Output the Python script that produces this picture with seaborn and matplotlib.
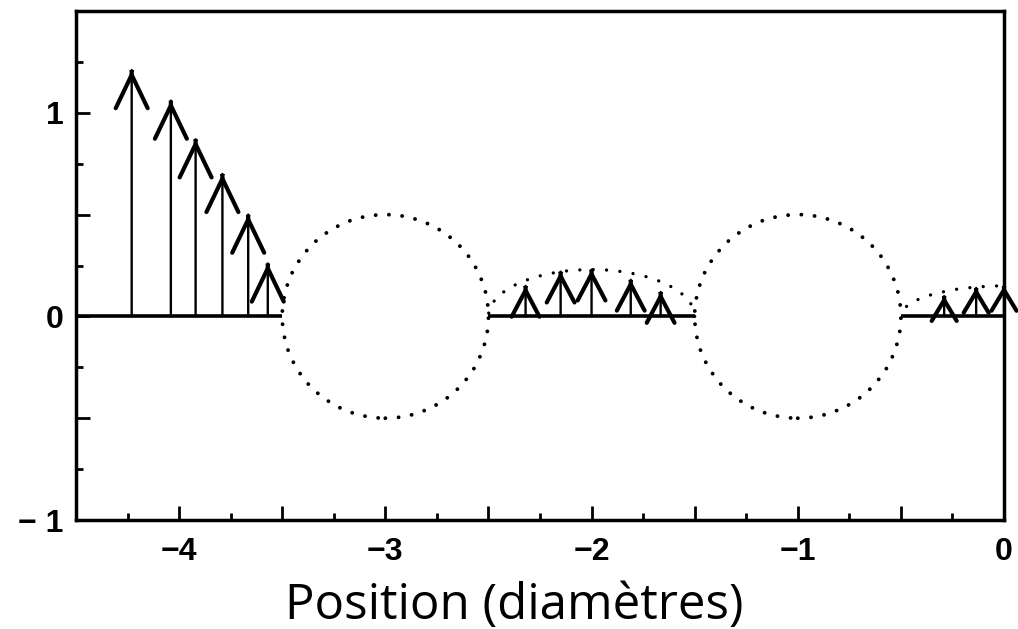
import numpy as np
import pandas as pd
import matplotlib
matplotlib.use("Agg")
import matplotlib.pyplot as plt
from matplotlib.patches import Ellipse, Arc
from matplotlib.ticker import FixedLocator, FixedFormatter
import seaborn as sns

# Wall segments between the cylinders (position in diameters, y = 0)
seg_start = [-4.5, -2.5, -0.5]
seg_end = [-3.5, -1.5, 0.0]

# Cylinder cross-sections (centre x, radius)
cyl_x = [-3.0, -1.0]
cyl_r = [0.5, 0.5]

# Velocity vectors standing on the walls
vec_x_a = [-4.23, -4.04, -3.92, -3.79, -3.665, -3.57]
vec_y_a = [1.21, 1.06, 0.87, 0.70, 0.50, 0.26]
vec_x_b = [-2.32, -2.15, -2.00, -1.81, -1.665]
vec_y_b = [0.15, 0.22, 0.23, 0.18, 0.12]
vec_x_c = [-0.29, -0.135, 0.0]
vec_y_c = [0.10, 0.14, 0.15]

# Dotted envelopes over the sheltered gaps (centre x, half-width, height)
env_x = [-2.0, 0.0]
env_w = [0.5, 0.5]
env_h = [0.23, 0.15]

x_major = [-4.5, -4.0, -3.5, -3.0, -2.5, -2.0, -1.5, -1.0, -0.5, 0.0]
x_labels = ["", "\u22124", "", "\u22123", "", "\u22122", "", "\u22121", "", "0"]
y_major = [-1.0, -0.5, 0.0, 0.5, 1.0]
y_labels = ["\u2212 1", "", "0", "", "1"]

sns.set_theme(style="ticks")
plt.rcParams["font.family"] = ["Liberation Sans", "DejaVu Sans"]

fig = plt.figure(figsize=(10.18, 6.29), dpi=100)
ax = fig.add_axes([76 / 1018, 1 - 520 / 629, 928 / 1018, 509 / 629])

# walls
rows = []
for i, (a, b) in enumerate(zip(seg_start, seg_end)):
    rows.append({"x": a, "y": 0.0, "seg": i})
    rows.append({"x": b, "y": 0.0, "seg": i})
walls = pd.DataFrame(rows)
sns.lineplot(data=walls, x="x", y="y", units="seg", estimator=None,
             color="black", lw=2.6, ax=ax, legend=False, solid_capstyle="butt")

# cylinders
for cx, r in zip(cyl_x, cyl_r):
    e = Ellipse((cx, 0.0), 2 * r, 2 * r, fill=False, ec="black", lw=2.8,
                ls=(0, (0.01, 3.4)))
    e.set_capstyle("round")
    ax.add_patch(e)

# envelopes
for cx, w, h in zip(env_x, env_w, env_h):
    a = Arc((cx, 0.0), 2 * w, 2 * h, theta1=0, theta2=180, ec="black",
            lw=2.4, ls=(0, (0.01, 4.0)))
    a.set_capstyle("round")
    ax.add_patch(a)

# vectors: thin shaft plus a heavier open head
def draw_vectors(xs, ys, hl, hw):
    for x, y in zip(xs, ys):
        ax.annotate("", xy=(x, y), xytext=(x, 0.0), annotation_clip=False,
                    arrowprops=dict(arrowstyle="-", color="black", lw=1.7,
                                    shrinkA=0, shrinkB=0))
        ax.annotate("", xy=(x, y), xytext=(x, y - 0.002), annotation_clip=False,
                    arrowprops=dict(arrowstyle=f"->,head_length={hl},head_width={hw}",
                                    color="black", lw=3.0, shrinkA=0, shrinkB=0,
                                    mutation_scale=1, capstyle="round",
                                    joinstyle="miter"))

draw_vectors(vec_x_a, vec_y_a, 24, 11.5)
draw_vectors(vec_x_b, vec_y_b, 19, 10)
draw_vectors(vec_x_c, vec_y_c, 15, 9)

ax.set_xlim(-4.5, 0.0)
ax.set_ylim(-1.0, 1.5)

ax.xaxis.set_major_locator(FixedLocator(x_major))
ax.xaxis.set_major_formatter(FixedFormatter(x_labels))
ax.xaxis.set_minor_locator(FixedLocator(np.arange(-4.25, 0.0, 0.5)))
ax.yaxis.set_major_locator(FixedLocator(y_major))
ax.yaxis.set_major_formatter(FixedFormatter(y_labels))
ax.yaxis.set_minor_locator(FixedLocator(np.arange(-0.75, 1.5, 0.5)))

ax.tick_params(axis="both", which="major", direction="in", length=10, width=2,
               color="black", labelsize=23, labelcolor="black")
ax.tick_params(axis="both", which="minor", direction="in", length=5, width=2,
               color="black")
ax.tick_params(axis="x", which="major", pad=12)
ax.tick_params(axis="y", which="major", pad=9)
for lab in ax.get_xticklabels() + ax.get_yticklabels():
    lab.set_fontweight("bold")

for s in ax.spines.values():
    s.set_visible(True)
    s.set_linewidth(2.5)
    s.set_color("black")

ax.set_ylabel("")
ax.set_xlabel("Position (diamètres)", fontsize=35.5, family=["Open Sans", "DejaVu Sans"],
              color="black")
ax.xaxis.label.set_verticalalignment("baseline")
ax.xaxis.set_label_coords(0.472, (520 - 619) / 509)

fig.savefig("out.png", dpi=100, facecolor="white")
